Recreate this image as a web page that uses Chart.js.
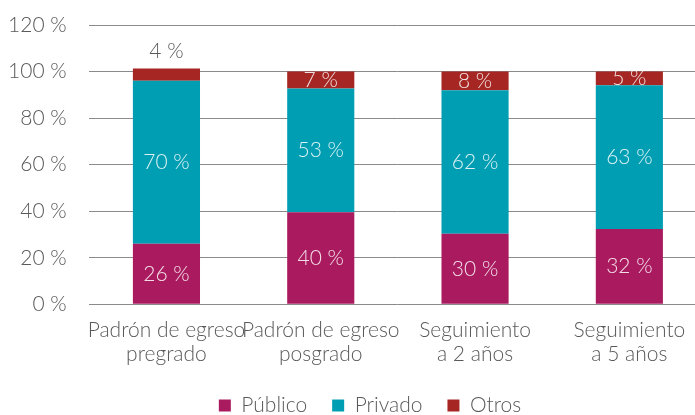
<!DOCTYPE html>
<html>
<head>
<meta charset="utf-8">
<script src="https://cdn.jsdelivr.net/npm/chart.js@4/dist/chart.umd.min.js"></script>
<style>
  html, body { margin: 0; padding: 0; background: #ffffff; overflow: hidden; }
  #wrap { position: relative; width: 740px; height: 426px; }
</style>
</head>
<body>
<div id="wrap"><canvas id="c"></canvas></div>
<script>
// ---- Data ----
const categories = [
  ["Padrón de egreso", "pregrado"],
  ["Padrón de egreso", "posgrado"],
  ["Seguimiento", "a 2 años"],
  ["Seguimiento", "a 5 años"]
];
const seriesNames = ["Público", "Privado", "Otros"];
const publico = [26.0, 39.6, 30.3, 32.3];
const privado = [70.1, 53.1, 61.7, 61.8];
const otros   = [5.2, 7.3, 8.0, 5.9];
// Printed data labels (as shown in the chart)
const publicoLabels = ["26 %", "40 %", "30 %", "32 %"];
const privadoLabels = ["70 %", "53 %", "62 %", "63 %"];
const otrosLabels   = ["4 %", "7 %", "8 %", "5 %"];
const otrosLabelAbove = [true, false, false, false];
const yTicks = [0, 20, 40, 60, 80, 100, 120];

const colors = ["#AA1A5F", "#009EB2", "#A52622"];
const FONT = "Lato";
const textColor = "#595959";

const labelSets = [publicoLabels, privadoLabels, otrosLabels];

const dataLabelPlugin = {
  id: "segLabels",
  afterDatasetsDraw(chart) {
    const ctx = chart.ctx;
    ctx.save();
    ctx.font = "300 21px " + FONT;
    ctx.textAlign = "center";
    ctx.textBaseline = "middle";
    chart.data.datasets.forEach((ds, di) => {
      const meta = chart.getDatasetMeta(di);
      meta.data.forEach((bar, i) => {
        const txt = labelSets[di][i];
        const top = Math.min(bar.y, bar.base);
        const bottom = Math.max(bar.y, bar.base);
        if (di === 2 && otrosLabelAbove[i]) {
          ctx.fillStyle = textColor;
          ctx.fillText(txt, bar.x, top - 17);
        } else {
          ctx.fillStyle = "rgba(255,255,255,0.86)";
          ctx.fillText(txt, bar.x, (top + bottom) / 2);
        }
      });
    });
    ctx.restore();
  }
};

new Chart(document.getElementById("c"), {
  type: "bar",
  data: {
    labels: categories,
    datasets: [
      { label: seriesNames[0], data: publico, backgroundColor: colors[0] },
      { label: seriesNames[1], data: privado, backgroundColor: colors[1] },
      { label: seriesNames[2], data: otros,   backgroundColor: colors[2] }
    ]
  },
  options: {
    responsive: true,
    maintainAspectRatio: false,
    animation: false,
    devicePixelRatio: 1,
    datasets: { bar: { categoryPercentage: 1, barPercentage: 0.435, borderWidth: 0 } },
    layout: { padding: { top: 25, left: 0, right: 0, bottom: 0 } },
    plugins: {
      tooltip: { enabled: false },
      legend: {
        position: "bottom",
        labels: {
          boxWidth: 12, boxHeight: 12, padding: 25,
          color: textColor,
          font: { family: FONT, size: 21, weight: "300" }
        }
      }
    },
    scales: {
      x: {
        stacked: true,
        grid: { display: false, drawTicks: false },
        border: { display: false },
        ticks: {
          color: textColor, padding: 14, maxRotation: 0, autoSkip: false,
          font: { family: FONT, size: 21, weight: "300", lineHeight: 1.15 }
        },
        afterFit(s) { s.height = 65.7; }
      },
      y: {
        stacked: true,
        min: 0, max: 120,
        afterBuildTicks(s) { s.ticks = yTicks.map(v => ({ value: v })); },
        grid: { color: "#8a8a8a", lineWidth: 1, drawTicks: false },
        border: { display: false },
        ticks: {
          color: textColor, padding: 22.6,
          font: { family: FONT, size: 21, weight: "300", lineHeight: 0.2 },
          callback: v => v + " %"
        },
        afterFit(s) { s.width = 89.3; }
      },
      yR: {
        position: "right",
        display: true,
        grid: { display: false, drawTicks: false },
        border: { display: false },
        ticks: { display: false },
        afterFit(s) { s.width = 33.5; }
      }
    }
  },
  plugins: [dataLabelPlugin]
});
</script>
</body>
</html>
